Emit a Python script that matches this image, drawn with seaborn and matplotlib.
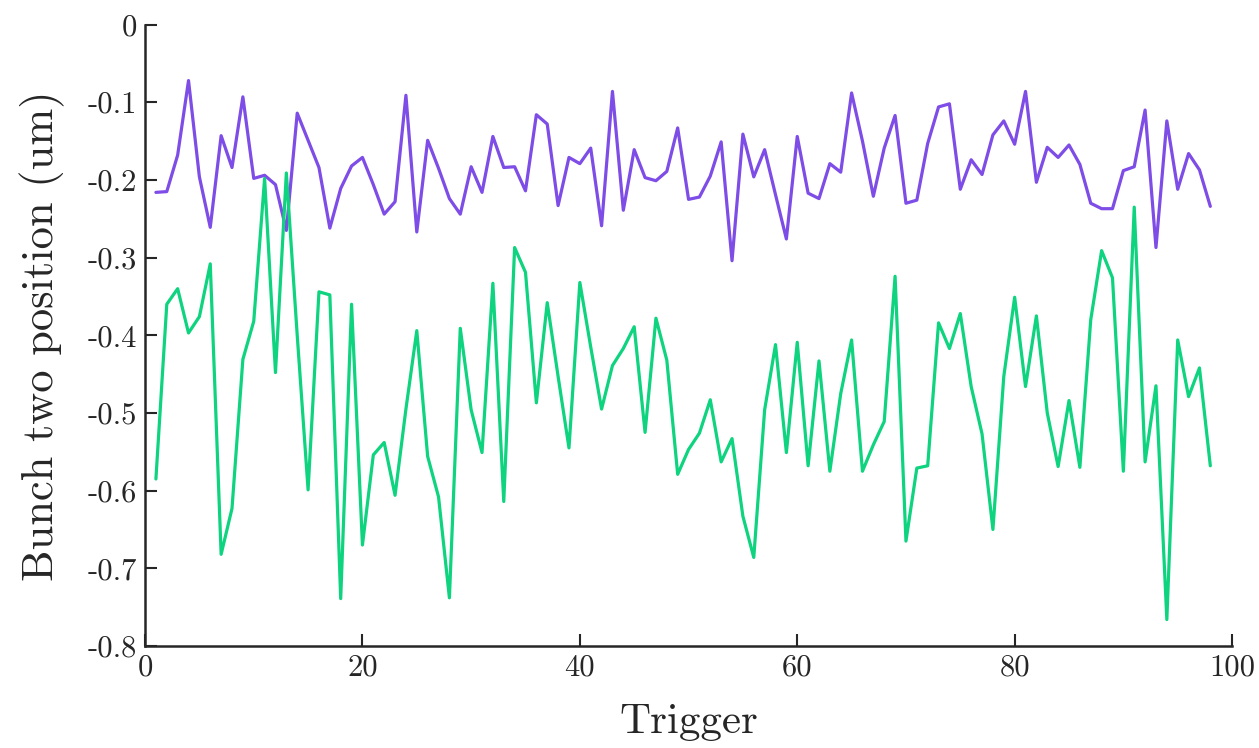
import numpy as np
import pandas as pd
import matplotlib
matplotlib.use("Agg")
import matplotlib.pyplot as plt
import seaborn as sns

trigger = list(range(1, 99))

bunch_a = [-0.216, -0.215, -0.168, -0.072, -0.196, -0.261, -0.143, -0.184, -0.093, -0.198,
           -0.194, -0.206, -0.265, -0.114, -0.149, -0.184, -0.262, -0.211, -0.182, -0.171,
           -0.206, -0.244, -0.228, -0.091, -0.267, -0.149, -0.185, -0.224, -0.244, -0.183,
           -0.216, -0.144, -0.184, -0.183, -0.214, -0.116, -0.128, -0.233, -0.171, -0.179,
           -0.159, -0.259, -0.086, -0.239, -0.161, -0.197, -0.201, -0.189, -0.133, -0.225,
           -0.222, -0.195, -0.151, -0.304, -0.141, -0.196, -0.161, -0.219, -0.276, -0.144,
           -0.217, -0.224, -0.179, -0.190, -0.088, -0.150, -0.221, -0.159, -0.117, -0.230,
           -0.226, -0.153, -0.106, -0.102, -0.212, -0.174, -0.193, -0.142, -0.124, -0.154,
           -0.086, -0.203, -0.158, -0.171, -0.155, -0.180, -0.230, -0.237, -0.237, -0.188,
           -0.183, -0.110, -0.287, -0.124, -0.212, -0.166, -0.187, -0.234]

bunch_b = [-0.585, -0.360, -0.340, -0.397, -0.376, -0.308, -0.682, -0.623, -0.431, -0.382,
           -0.198, -0.448, -0.191, -0.400, -0.599, -0.344, -0.348, -0.739, -0.360, -0.670,
           -0.554, -0.538, -0.606, -0.495, -0.394, -0.556, -0.608, -0.738, -0.391, -0.496,
           -0.551, -0.333, -0.614, -0.287, -0.319, -0.487, -0.358, -0.453, -0.545, -0.332,
           -0.415, -0.495, -0.439, -0.417, -0.389, -0.525, -0.378, -0.432, -0.579, -0.547,
           -0.526, -0.483, -0.563, -0.533, -0.633, -0.686, -0.496, -0.412, -0.551, -0.409,
           -0.568, -0.433, -0.575, -0.475, -0.406, -0.575, -0.541, -0.511, -0.324, -0.665,
           -0.571, -0.568, -0.384, -0.417, -0.372, -0.466, -0.527, -0.650, -0.453, -0.351,
           -0.466, -0.375, -0.500, -0.569, -0.484, -0.570, -0.380, -0.291, -0.326, -0.575,
           -0.235, -0.563, -0.465, -0.766, -0.406, -0.479, -0.442, -0.568]

x_ticks = [0, 20, 40, 60, 80, 100]
y_ticks = [0, -0.1, -0.2, -0.3, -0.4, -0.5, -0.6, -0.7, -0.8]
y_tick_labels = ["0", "-0.1", "-0.2", "-0.3", "-0.4", "-0.5", "-0.6", "-0.7", "-0.8"]

sns.set_theme(style="ticks")
plt.rcParams['font.family'] = ['cmr10', 'Liberation Serif', 'DejaVu Serif']
plt.rcParams['axes.unicode_minus'] = False

df = pd.DataFrame({
    "Trigger": trigger * 2,
    "Position": bunch_a + bunch_b,
    "Series": ["A"] * len(trigger) + ["B"] * len(trigger),
})

fig = plt.figure(figsize=(12.59, 7.48), dpi=100)
ax = fig.add_axes([0.1152, 0.1364, 0.8634, 0.8307])

sns.lineplot(data=df, x="Trigger", y="Position", hue="Series",
             palette={"A": "#7E4CE6", "B": "#0ED37F"}, linewidth=2.3,
             legend=False, ax=ax, estimator=None)

ax.set_xlim(0, 100)
ax.set_ylim(-0.8, 0)
ax.set_xticks(x_ticks)
ax.set_xticklabels([str(t) for t in x_ticks])
ax.set_yticks(y_ticks)
ax.set_yticklabels(y_tick_labels)
ax.tick_params(direction="in", length=8.5, width=1.5, labelsize=22, color="#262626",
               labelcolor="#262626", pad=6)
for s in ["left", "bottom"]:
    ax.spines[s].set_linewidth(1.8)
    ax.spines[s].set_color("#262626")
sns.despine(ax=ax)
ax.set_xlabel("Trigger", fontsize=31, color="#262626", labelpad=16)
ax.set_ylabel("Bunch two position (um)", fontsize=32, color="#262626", labelpad=16)

fig.savefig("out.png", dpi=100)
